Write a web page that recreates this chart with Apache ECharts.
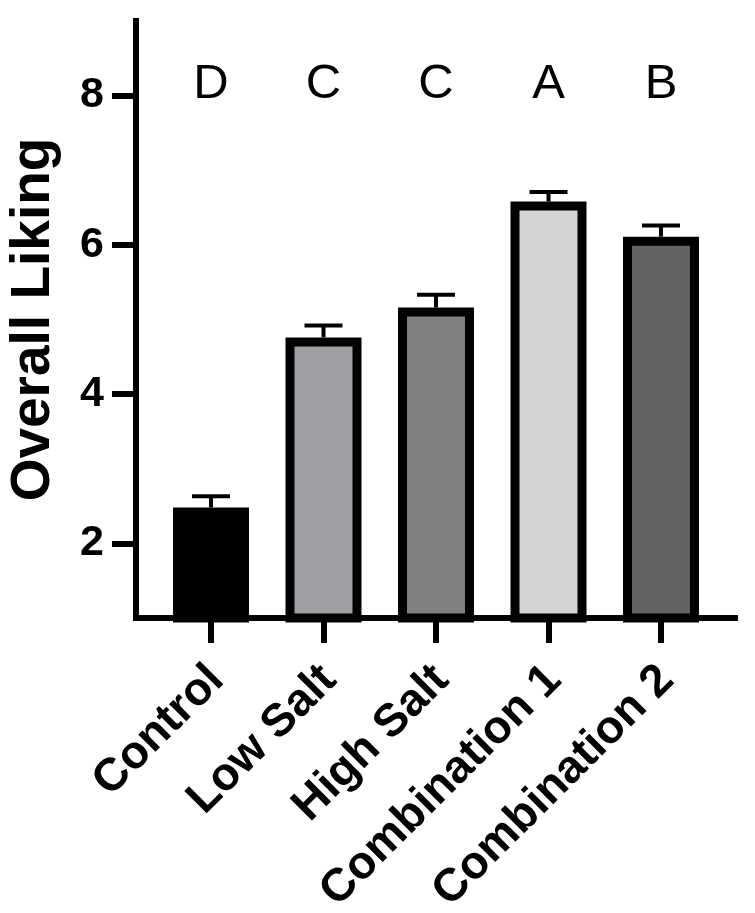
<!DOCTYPE html>
<html lang="en">
<head>
    <meta charset="UTF-8">
    <title>Overall Liking</title>
    <script src="https://cdn.jsdelivr.net/npm/echarts@6/dist/echarts.min.js"></script>
    <style>
        html, body { margin: 0; padding: 0; background: #ffffff; }
        #chart { width: 755px; height: 913px; }
    </style>
</head>
<body>
<div id="chart"></div>
<script>
    // data
    var categories = ['Control', 'Low Salt', 'High Salt', 'Combination 1', 'Combination 2'];
    var means = [2.48, 4.76, 5.16, 6.58, 6.11];
    var errors = [0.15, 0.16, 0.17, 0.13, 0.15];
    var letters = ['D', 'C', 'C', 'A', 'B'];
    var letterLevel = 8.15;
    var yTicks = [2, 4, 6, 8];
    var barColors = ['#000000', '#a09fa4', '#808080', '#d3d3d3', '#636363'];

    var font = 'Liberation Sans, Arial, sans-serif';
    var chart = echarts.init(document.getElementById('chart'));

    var option = {
        backgroundColor: '#ffffff',
        animation: false,
        grid: [
            // frame grid: carries the y axis and the long x axis line
            {left: 136, top: 21, width: 599, height: 597, containLabel: false, outerBoundsMode: 'none'},
            // bar grid
            {left: 154.75, top: 21, width: 562.5, height: 597, containLabel: false, outerBoundsMode: 'none'}
        ],
        xAxis: [
            {
                gridIndex: 0, type: 'value', min: 0, max: 1,
                axisLine: {show: true, lineStyle: {color: '#000', width: 6, cap: 'square'}},
                axisTick: {show: false}, axisLabel: {show: false}, splitLine: {show: false}
            },
            {
                gridIndex: 1, type: 'category', data: categories,
                axisLine: {show: false},
                axisTick: {show: true, alignWithLabel: true, length: 25, lineStyle: {color: '#000', width: 6}},
                axisLabel: {
                    rotate: 45, interval: 0, margin: 28,
                    align: 'right', verticalAlign: 'top', padding: [0, 15, 0, 0],
                    color: '#000', fontSize: 46, fontWeight: 'bold', fontFamily: font
                },
                splitLine: {show: false}
            }
        ],
        yAxis: [
            {
                gridIndex: 0, type: 'value', min: 1, max: 9,
                name: 'Overall Liking', nameLocation: 'middle', nameRotate: 90, nameGap: 75,
                nameTextStyle: {color: '#000', fontSize: 55, fontWeight: 'bold', fontFamily: font},
                axisLine: {show: true, lineStyle: {color: '#000', width: 6, cap: 'square'}},
                axisTick: {show: true, length: 24, customValues: yTicks, lineStyle: {color: '#000', width: 6}},
                axisLabel: {
                    customValues: yTicks, margin: 32,
                    color: '#000', fontSize: 43, fontWeight: 'bold', fontFamily: font
                },
                splitLine: {show: false}
            },
            {
                gridIndex: 1, type: 'value', min: 1, max: 9, show: false
            }
        ],
        series: [
            {
                type: 'bar',
                xAxisIndex: 1, yAxisIndex: 1,
                barWidth: 76,
                z: 3,
                data: means.map(function (v, i) {
                    return {
                        value: v,
                        itemStyle: {color: barColors[i], borderColor: '#000', borderWidth: 9}
                    };
                })
            },
            {
                // error bars (mean + SEM, upper only)
                type: 'custom',
                xAxisIndex: 1, yAxisIndex: 1,
                z: 2,
                data: means.map(function (v, i) { return [i, v, v + errors[i]]; }),
                renderItem: function (params, api) {
                    var lo = api.coord([api.value(0), api.value(1)]);
                    var hi = api.coord([api.value(0), api.value(2)]);
                    var half = 19;
                    var style = {stroke: '#000', lineWidth: 4};
                    return {
                        type: 'group',
                        children: [
                            {type: 'line', shape: {x1: lo[0], y1: lo[1], x2: hi[0], y2: hi[1]}, style: style},
                            {type: 'line', shape: {x1: hi[0] - half, y1: hi[1], x2: hi[0] + half, y2: hi[1]}, style: style}
                        ]
                    };
                }
            },
            {
                // significance letters
                type: 'custom',
                xAxisIndex: 1, yAxisIndex: 1,
                data: letters.map(function (l, i) { return [i, letterLevel]; }),
                renderItem: function (params, api) {
                    var p = api.coord([api.value(0), api.value(1)]);
                    return {
                        type: 'text',
                        style: {
                            x: p[0], y: p[1],
                            text: letters[params.dataIndex],
                            fill: '#000',
                            font: 'normal 49px ' + font,
                            align: 'center',
                            verticalAlign: 'middle'
                        }
                    };
                }
            }
        ]
    };
    chart.setOption(option);
</script>
</body>
</html>
